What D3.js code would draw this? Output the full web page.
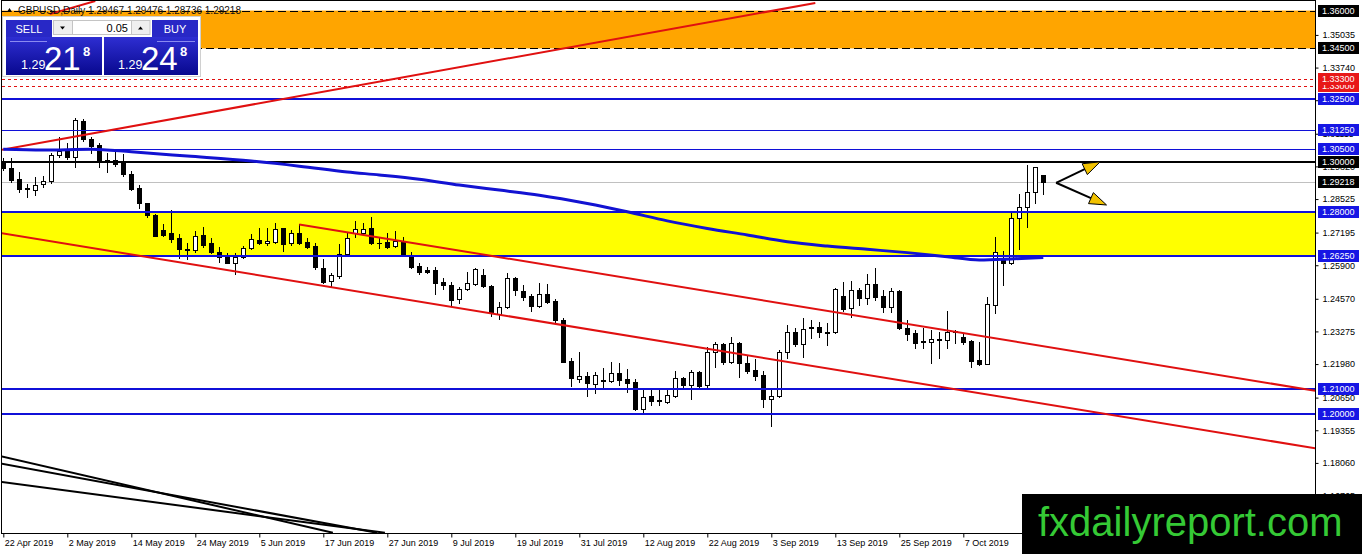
<!DOCTYPE html>
<html>
<head>
<meta charset="utf-8">
<script src="https://cdn.jsdelivr.net/npm/d3@7"></script>
<style>
  body { margin: 0; background: #fff; }
  svg { display: block; font-family: "Liberation Sans", Arial, sans-serif; }
</style>
</head>
<body>
<div id="wrapper"></div>
<script>
// GBPUSD daily bars, 22 Apr 2019 onwards
const opens = [1.2995,1.2974,1.2932,1.2895,1.2889,1.2912,1.2924,1.3026,1.3042,1.3020,
  1.3162,1.3089,1.3067,1.3007,1.3007,1.2994,1.2952,1.2895,1.2835,1.2789,
  1.2730,1.2717,1.2697,1.2653,1.2650,1.2710,1.2677,1.2644,1.2621,1.2600,
  1.2624,1.2657,1.2690,1.2677,1.2683,1.2736,1.2677,1.2717,1.2683,1.2666,
  1.2578,1.2527,1.2547,1.2634,1.2719,1.2719,1.2736,1.2679,1.2683,1.2666,
  1.2687,1.2630,1.2587,1.2571,1.2571,1.2525,1.2512,1.2455,1.2494,1.2515,
  1.2551,1.2508,1.2397,1.2423,1.2538,1.2489,1.2468,1.2428,1.2476,1.2449,
  1.2373,1.2210,1.2140,1.2151,1.2119,1.2135,1.2132,1.2161,1.2138,1.2128,
  1.2020,1.2071,1.2056,1.2049,1.2073,1.2142,1.2115,1.2168,1.2115,1.2245,
  1.2276,1.2205,1.2283,1.2203,1.2174,1.2155,1.2058,1.2071,1.2245,1.2324,
  1.2276,1.2340,1.2346,1.2324,1.2324,1.2469,1.2419,1.2492,1.2461,1.2514,
  1.2469,1.2425,1.2488,1.2340,1.2322,1.2289,1.2287,1.2293,1.2293,1.2326,
  1.2305,1.2289,1.2214,1.2200,1.2432,1.2611,1.2598,1.2776,1.2820,1.2881,
  1.29467];
const highs = [1.3015,1.3014,1.2960,1.2912,1.2939,1.2943,1.3034,1.3097,1.3073,1.3174,
  1.3169,1.3100,1.3073,1.3034,1.3040,1.3031,1.2965,1.2908,1.2838,1.2793,
  1.2753,1.2809,1.2714,1.2680,1.2727,1.2743,1.2697,1.2663,1.2637,1.2637,
  1.2666,1.2713,1.2736,1.2736,1.2756,1.2739,1.2730,1.2753,1.2697,1.2679,
  1.2613,1.2560,1.2674,1.2717,1.2766,1.2759,1.2780,1.2697,1.2719,1.2727,
  1.2703,1.2644,1.2598,1.2584,1.2584,1.2538,1.2525,1.2505,1.2564,1.2578,
  1.2574,1.2512,1.2445,1.2558,1.2544,1.2512,1.2476,1.2518,1.2515,1.2455,
  1.2379,1.2221,1.2247,1.2168,1.2168,1.2181,1.2207,1.2201,1.2177,1.2138,
  1.2098,1.2098,1.2098,1.2098,1.2172,1.2146,1.2174,1.2172,1.2267,1.2287,
  1.2283,1.2304,1.2287,1.2234,1.2217,1.2172,1.2095,1.2254,1.2353,1.2342,
  1.2379,1.2373,1.2366,1.2360,1.2501,1.2522,1.2527,1.2498,1.2554,1.2578,
  1.2492,1.2498,1.2492,1.2373,1.2333,1.2340,1.2333,1.2326,1.2408,1.2333,
  1.2321,1.2293,1.2286,1.2464,1.2701,1.2648,1.2796,1.2872,1.2987,1.2981,
  1.29476];
const lows = [1.2967,1.2921,1.2881,1.2859,1.2868,1.2899,1.2917,1.3020,1.3012,1.2981,
  1.3084,1.3036,1.2981,1.2961,1.2983,1.2944,1.2888,1.2818,1.2782,1.2706,
  1.2706,1.2681,1.2617,1.2615,1.2644,1.2663,1.2637,1.2604,1.2598,1.2555,
  1.2617,1.2653,1.2674,1.2670,1.2679,1.2648,1.2670,1.2674,1.2657,1.2574,
  1.2521,1.2502,1.2538,1.2630,1.2703,1.2714,1.2674,1.2657,1.2657,1.2661,
  1.2627,1.2578,1.2555,1.2560,1.2476,1.2494,1.2432,1.2439,1.2492,1.2512,
  1.2505,1.2389,1.2376,1.2419,1.2472,1.2452,1.2410,1.2423,1.2439,1.2366,
  1.2205,1.2111,1.2128,1.2071,1.2084,1.2102,1.2128,1.2115,1.2088,1.2016,
  1.2009,1.2036,1.2036,1.2045,1.2069,1.2102,1.2058,1.2106,1.2106,1.2188,
  1.2198,1.2201,1.2148,1.2164,1.2135,1.2029,1.1952,1.2069,1.2221,1.2271,
  1.2227,1.2300,1.2307,1.2274,1.2320,1.2408,1.2386,1.2432,1.2435,1.2452,
  1.2406,1.2406,1.2337,1.2293,1.2263,1.2263,1.2201,1.2221,1.2261,1.2282,
  1.2276,1.2188,1.2194,1.2197,1.2402,1.2512,1.2595,1.2653,1.2743,1.2835,
  1.28736];
const closes = [1.2975,1.2928,1.2892,1.2891,1.2907,1.2924,1.3026,1.3042,1.3020,1.3166,
  1.3089,1.3064,1.3004,1.3000,1.2991,1.2950,1.2893,1.2835,1.2789,1.2707,
  1.2710,1.2695,1.2653,1.2650,1.2706,1.2670,1.2644,1.2621,1.2600,1.2624,
  1.2657,1.2693,1.2677,1.2685,1.2732,1.2673,1.2717,1.2677,1.2663,1.2584,
  1.2525,1.2551,1.2634,1.2697,1.2734,1.2732,1.2677,1.2677,1.2663,1.2687,
  1.2630,1.2584,1.2564,1.2564,1.2518,1.2512,1.2452,1.2494,1.2521,1.2574,
  1.2508,1.2399,1.2423,1.2538,1.2492,1.2465,1.2428,1.2476,1.2445,1.2373,
  1.2207,1.2142,1.2151,1.2122,1.2155,1.2131,1.2161,1.2135,1.2124,1.2019,
  1.2066,1.2053,1.2052,1.2075,1.2142,1.2115,1.2168,1.2111,1.2247,1.2276,
  1.2205,1.2283,1.2201,1.2172,1.2152,1.2058,1.2073,1.2247,1.2324,1.2276,
  1.2337,1.2346,1.2324,1.2320,1.2496,1.2416,1.2492,1.2461,1.2514,1.2465,
  1.2425,1.2488,1.2340,1.2317,1.2283,1.2287,1.2296,1.2296,1.2324,1.2329,
  1.2284,1.2210,1.2199,1.2435,1.2644,1.2598,1.2776,1.2820,1.2881,1.2978,
  1.29218];

// moving average read at a few bars
const maBars = [0, 5, 11, 16, 23, 31, 37, 43, 47, 52, 57, 62, 67, 73, 78, 83, 88, 93, 98, 103, 108, 113, 118, 122, 126, 130];
const maValues = [1.3050, 1.3047, 1.3050, 1.3040, 1.3023, 1.3003, 1.2983, 1.2960, 1.2948, 1.2931, 1.2908, 1.2888, 1.2868,
  1.2835, 1.2802, 1.2766, 1.2736, 1.2710, 1.2683, 1.2666, 1.2653, 1.2640, 1.2624, 1.2611, 1.2615, 1.2621];

// drawn objects, [bar, price]
const supplyZone = [1.345, 1.36];
const demandZone = [1.2625, 1.28];
const majorLevels = [1.325, 1.28, 1.2625, 1.21, 1.20];
const minorLevels = [1.3125, 1.305];
const pivotLevel = 1.30;
const dashedLevels = [1.333, 1.330];
const risingTrend = [[-0.4, 1.3047], [101.5, 1.3630]];
const shortTrend = [[5.8, 1.3586], [11.5, 1.3638]];
const channelUpper = [[37, 1.2752], [164, 1.2092]];
const channelLower = [[-0.4, 1.2718], [164, 1.1864]];
const blackTrends = [
  [[-0.4, 1.1833], [41.2, 1.1529]],
  [[-0.4, 1.1804], [46.7, 1.1529]],
  [[-0.4, 1.1731], [47.7, 1.1529]],
];
const arrowStart = [131.6, 1.2917];
const arrowEnds = [[137.1, 1.3000], [137.9, 1.2829]];

const priceTicks = [1.35035, 1.3374, 1.32445, 1.31115, 1.2982, 1.28525, 1.27195, 1.259, 1.2457,
  1.23275, 1.2198, 1.2065, 1.19355, 1.1806, 1.16765];
const dateLabels = ["22 Apr 2019", "2 May 2019", "14 May 2019", "24 May 2019", "5 Jun 2019", "17 Jun 2019",
  "27 Jun 2019", "9 Jul 2019", "19 Jul 2019", "31 Jul 2019", "12 Aug 2019", "22 Aug 2019", "3 Sep 2019",
  "13 Sep 2019", "25 Sep 2019", "7 Oct 2019"];

const symbolTitle = "GBPUSD,Daily";
const bidBig = "21", askBig = "24", quoteHandle = "1.29", quotePip = "8", lotSize = "0.05";

async function drawChart() {
  const candles = opens.map((o, i) => ({ i, o, h: highs[i], l: lows[i], c: closes[i] }));
  const lastClose = closes[closes.length - 1];

  let dimensions = { width: 1362, height: 554, plotLeft: 2, plotRight: 1315, plotTop: 1, plotBottom: 533 };

  const xScale = d3.scaleLinear().domain([0, 164]).range([3.3, 1315.3]);
  const yScale = d3.scaleLinear().domain([1.1528, 1.3638]).range([dimensions.plotBottom, dimensions.plotTop]);

  const wrapper = d3.select("#wrapper").append("svg")
    .attr("width", dimensions.width)
    .attr("height", dimensions.height);

  const defs = wrapper.append("defs");
  defs.append("clipPath").attr("id", "plot-clip").append("rect")
    .attr("x", dimensions.plotLeft).attr("y", dimensions.plotTop)
    .attr("width", dimensions.plotRight - dimensions.plotLeft)
    .attr("height", dimensions.plotBottom - dimensions.plotTop);
  const grad = defs.append("linearGradient").attr("id", "quote-grad")
    .attr("x1", 0).attr("y1", 0).attr("x2", 0).attr("y2", 1);
  grad.append("stop").attr("offset", "0%").attr("stop-color", "#2e2ed2");
  grad.append("stop").attr("offset", "100%").attr("stop-color", "#08088e");

  const plot = wrapper.append("g").attr("clip-path", "url(#plot-clip)");
  const xl = dimensions.plotLeft, xr = dimensions.plotRight;

  // zones
  const zone = (z, color) => plot.append("rect")
    .attr("x", xl).attr("width", xr - xl)
    .attr("y", yScale(z[1])).attr("height", yScale(z[0]) - yScale(z[1]))
    .attr("fill", color);
  zone(supplyZone, "#ffa500");
  zone(demandZone, "#ffff00");

  const hline = (p, color, w, dash) => plot.append("line")
    .attr("x1", xl).attr("x2", xr)
    .attr("y1", Math.round(yScale(p)) + (w % 2 ? 0.5 : 0))
    .attr("y2", Math.round(yScale(p)) + (w % 2 ? 0.5 : 0))
    .attr("stroke", color).attr("stroke-width", w)
    .attr("stroke-dasharray", dash || null);

  supplyZone.forEach((p) => hline(p, "#000", 1, "8,4"));
  hline(lastClose, "#c0c0c0", 1);

  // candles
  const cx = (d) => Math.round(xScale(d.i));
  plot.selectAll(".wick").data(candles).join("line")
    .attr("class", "wick")
    .attr("x1", (d) => cx(d) + 0.5).attr("x2", (d) => cx(d) + 0.5)
    .attr("y1", (d) => Math.round(yScale(d.h)))
    .attr("y2", (d) => Math.round(yScale(d.l)) + 1)
    .attr("stroke", "#000");
  plot.selectAll(".body").data(candles).join("rect")
    .attr("class", "body")
    .attr("x", (d) => cx(d) - 1.5)
    .attr("width", 4)
    .attr("y", (d) => Math.round(yScale(Math.max(d.o, d.c))) + 0.5)
    .attr("height", (d) => Math.max(0.01, Math.round(yScale(Math.min(d.o, d.c))) - Math.round(yScale(Math.max(d.o, d.c)))))
    .attr("fill", (d) => (d.c >= d.o ? "#fff" : "#000"))
    .attr("stroke", "#000");

  // horizontal levels
  majorLevels.forEach((p) => hline(p, "#1010d8", 2));
  minorLevels.forEach((p) => hline(p, "#1010d8", 1));
  hline(pivotLevel, "#000", 2);
  dashedLevels.forEach((p) => hline(p, "#e01010", 1, "3,3"));

  // trend lines
  const seg = (pts, color, w) => plot.append("line")
    .attr("x1", xScale(pts[0][0])).attr("y1", yScale(pts[0][1]))
    .attr("x2", xScale(pts[1][0])).attr("y2", yScale(pts[1][1]))
    .attr("stroke", color).attr("stroke-width", w);
  seg(risingTrend, "#e01010", 2);
  seg(shortTrend, "#e01010", 2);
  seg(channelUpper, "#e01010", 2);
  seg(channelLower, "#e01010", 2);
  blackTrends.forEach((t) => seg(t, "#000", 2));

  // moving average
  const maLine = d3.line()
    .x((d, i) => xScale(maBars[i]))
    .y((d) => yScale(d))
    .curve(d3.curveMonotoneX);
  plot.append("path").attr("d", maLine(maValues))
    .attr("fill", "none").attr("stroke", "#1212d2").attr("stroke-width", 3);

  // arrows
  arrowEnds.forEach((end) => {
    const x0 = xScale(arrowStart[0]), y0 = yScale(arrowStart[1]);
    const x1 = xScale(end[0]), y1 = yScale(end[1]);
    const ang = Math.atan2(y1 - y0, x1 - x0);
    const len = 17, half = 6;
    const bx = x1 - len * Math.cos(ang), by = y1 - len * Math.sin(ang);
    plot.append("line").attr("x1", x0).attr("y1", y0).attr("x2", bx).attr("y2", by)
      .attr("stroke", "#000").attr("stroke-width", 2);
    const pts = [[x1, y1],
      [bx + half * Math.sin(ang), by - half * Math.cos(ang)],
      [bx - half * Math.sin(ang), by + half * Math.cos(ang)]];
    plot.append("path").attr("d", "M" + pts.join("L") + "Z")
      .attr("fill", "#f2c200").attr("stroke", "#000").attr("stroke-width", 1);
  });

  // frame
  wrapper.append("rect")
    .attr("x", xl - 0.5).attr("y", dimensions.plotTop - 0.5)
    .attr("width", xr - xl + 1).attr("height", dimensions.plotBottom - dimensions.plotTop + 1)
    .attr("fill", "none").attr("stroke", "#000");

  // price axis
  const yAxis = d3.axisRight(yScale).tickValues(priceTicks)
    .tickFormat(d3.format(".5f")).tickSize(3).tickPadding(4);
  const yAxisG = wrapper.append("g").attr("transform", `translate(${xr + 0.5},0)`).call(yAxis);
  yAxisG.select(".domain").remove();
  yAxisG.selectAll("text").attr("font-size", 9).attr("font-family", "Liberation Sans, Arial").attr("fill", "#000");
  yAxisG.selectAll("line").attr("stroke", "#000");

  // level tags on the price axis
  const tags = [];
  supplyZone.forEach((p) => tags.push({ p, bg: "#000" }));
  dashedLevels.forEach((p) => tags.push({ p, bg: "#e81818" }));
  majorLevels.concat(minorLevels).forEach((p) => tags.push({ p, bg: "#1616e4" }));
  tags.push({ p: pivotLevel, bg: "#000" });
  tags.push({ p: lastClose, bg: "#000" });
  tags.sort((a, b) => a.p - b.p);
  const tagG = wrapper.selectAll(".tag").data(tags).join("g")
    .attr("class", "tag")
    .attr("transform", (d) => `translate(${xr + 3},${Math.round(yScale(d.p))})`);
  tagG.append("rect").attr("x", 0).attr("y", -6).attr("width", 41).attr("height", 12)
    .attr("fill", (d) => d.bg);
  tagG.append("text").attr("x", 4).attr("dy", "0.35em")
    .attr("font-size", 9).attr("fill", "#fff")
    .text((d) => d3.format(".5f")(d.p));

  // date axis
  const xAxis = d3.axisBottom(xScale)
    .tickValues(dateLabels.map((d, i) => i * 8))
    .tickFormat((d, i) => dateLabels[i])
    .tickSize(4);
  const xAxisG = wrapper.append("g").attr("transform", `translate(0,${dimensions.plotBottom + 0.5})`).call(xAxis);
  xAxisG.select(".domain").remove();
  xAxisG.selectAll("line").attr("stroke", "#000");
  xAxisG.selectAll("text")
    .attr("text-anchor", "start").attr("x", 1).attr("y", 6)
    .attr("font-size", 9).attr("font-family", "Liberation Sans, Arial").attr("fill", "#000");

  // header
  wrapper.append("path").attr("d", "M7,12L9.5,8L12,12Z").attr("fill", "#000");
  wrapper.append("text").attr("x", 18).attr("y", 13.5)
    .attr("font-size", 10).attr("fill", "#111")
    .text(`${symbolTitle} ${opens[opens.length - 1].toFixed(5)} ${highs[highs.length - 1].toFixed(5)} ${lows[lows.length - 1].toFixed(5)} ${lastClose.toFixed(5)}`);

  // one-click trading panel
  const panel = wrapper.append("g");
  panel.append("rect").attr("x", 2.5).attr("y", 16.5).attr("width", 198).attr("height", 60)
    .attr("fill", "#fff").attr("stroke", "#d0d0d0");
  [[6, "SELL"], [152, "BUY"]].forEach(([bx, label]) => {
    panel.append("rect").attr("x", bx).attr("y", 20).attr("width", 46).attr("height", 18).attr("fill", "#2828c6");
    panel.append("text").attr("x", bx + 23).attr("y", 32.5).attr("text-anchor", "middle")
      .attr("font-size", 11).attr("fill", "#fff").text(label);
  });
  [[6, 96], [104, 94]].forEach(([bx, bw]) => {
    panel.append("rect").attr("x", bx).attr("y", 37).attr("width", bw).attr("height", 38).attr("fill", "url(#quote-grad)");
  });
  panel.append("line").attr("x1", 10).attr("x2", 47).attr("y1", 41.5).attr("y2", 41.5).attr("stroke", "#8a8af0");
  panel.append("line").attr("x1", 157).attr("x2", 195).attr("y1", 41.5).attr("y2", 41.5).attr("stroke", "#8a8af0");
  panel.append("rect").attr("x", 53.5).attr("y", 20.5).attr("width", 19).attr("height", 14).attr("fill", "#efefef").attr("stroke", "#c4c4c4");
  panel.append("path").attr("d", "M60,26.5L65,26.5L62.5,29.5Z").attr("fill", "#000");
  panel.append("rect").attr("x", 72.5).attr("y", 20.5).attr("width", 59).attr("height", 14).attr("fill", "#fff").attr("stroke", "#c4c4c4");
  panel.append("text").attr("x", 128).attr("y", 31.5).attr("text-anchor", "end").attr("font-size", 11).attr("fill", "#000").text(lotSize);
  panel.append("rect").attr("x", 131.5).attr("y", 20.5).attr("width", 18.5).attr("height", 14).attr("fill", "#efefef").attr("stroke", "#c4c4c4");
  panel.append("path").attr("d", "M138,29.5L143,29.5L140.5,26.5Z").attr("fill", "#000");
  [[21, bidBig], [118, askBig]].forEach(([qx, big]) => {
    panel.append("text").attr("x", qx).attr("y", 68.5).attr("font-size", 12.5).attr("fill", "#fff").text(quoteHandle);
    panel.append("text").attr("x", qx + 23).attr("y", 70).attr("font-size", 33).attr("fill", "#fff").text(big);
    panel.append("text").attr("x", qx + 62).attr("y", 55.5).attr("font-size", 13).attr("font-weight", "bold").attr("fill", "#fff").text(quotePip);
  });

  // watermark
  wrapper.append("rect").attr("x", 1022).attr("y", 494).attr("width", 340).attr("height", 60).attr("fill", "#000");
  wrapper.append("text").attr("x", 1038).attr("y", 536).attr("font-size", 40).attr("fill", "#35c935")
    .text("fxdailyreport.com");
}
drawChart();
</script>
</body>
</html>
